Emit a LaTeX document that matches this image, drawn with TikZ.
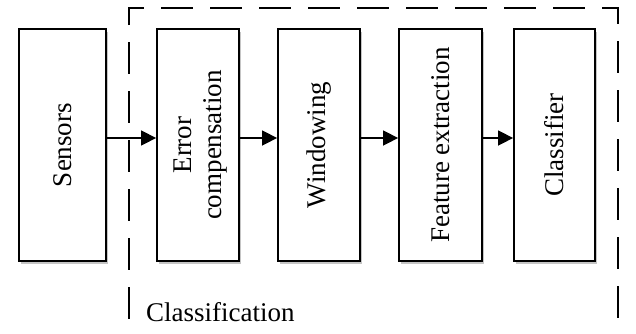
\documentclass[tikz,border=0pt]{standalone}
\usepackage{fontspec}
\setmainfont{Liberation Serif}
\usetikzlibrary{shadows,arrows.meta}
\begin{document}
\begin{tikzpicture}[x=1pt,y=-1pt,
  blk/.style={draw=black,line width=1.8pt,fill=white,minimum height=232pt,inner sep=0pt,
    drop shadow={shadow xshift=1.5pt,shadow yshift=-3pt,fill=black!45,opacity=0.5}},
  lbl/.style={rotate=90,align=center,inner sep=0pt,font=\fontsize{27}{30}\selectfont},
  arr/.style={line width=1.5pt,-{Triangle[length=15pt,width=15pt]}},
  grp/.style={line width=1.1pt,dash pattern=on 32pt off 17pt}]
\useasboundingbox (0,0) rectangle (636,333);
\coordinate (g1) at (129,25);
\coordinate (g2) at (129,8);
\coordinate (g3) at (618,8);
\coordinate (g4) at (618,335);
\coordinate (g5) at (129,335);
\draw[grp] (g1) -- (g2) -- (g3) -- (g4) -- (g5);
\draw[grp,dash phase=32pt] (g1) -- (g5);
\node[blk,minimum width=87pt] (s) at (62.5,145) {};
\node[blk,minimum width=82pt] (e) at (198,145) {};
\node[blk,minimum width=82pt] (w) at (319,145) {};
\node[blk,minimum width=83pt] (f) at (440.5,145) {};
\node[blk,minimum width=81pt] (c) at (554.5,145) {};
\node[lbl] (st) at (s.center) {Sensors};
\node[lbl] (et) at ([xshift=3pt]e.center) {Error\\compensation};
\node[lbl] (wt) at (w.center) {Windowing};
\node[lbl] (ft) at (f.center) {Feature extraction};
\node[lbl] (ct) at (c.center) {Classifier};
\draw[arr] ([yshift=7pt]s.east) -- ([yshift=7pt]e.west);
\draw[arr] ([yshift=7pt]e.east) -- ([yshift=7pt]w.west);
\draw[arr] ([yshift=7pt]w.east) -- ([yshift=7pt]f.west);
\draw[arr] ([yshift=7pt]f.east) -- ([yshift=7pt]c.west);
\node[anchor=base west,inner sep=0pt,font=\fontsize{27}{30}\selectfont] (cl) at (146,321.5) {Classification};
\end{tikzpicture}
\end{document}
